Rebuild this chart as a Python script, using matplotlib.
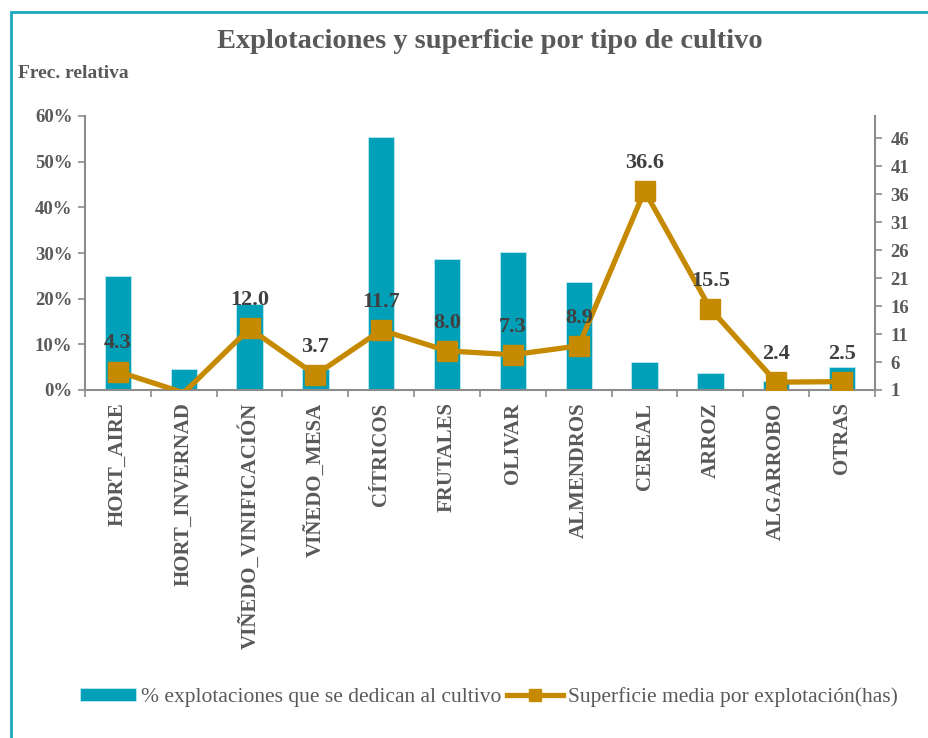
import numpy as np
import matplotlib.pyplot as plt
from matplotlib.patches import Rectangle

categorias = ['HORT_AIRE', 'HORT_INVERNAD', 'VIÑEDO_VINIFICACIÓN', 'VIÑEDO_MESA',
              'CÍTRICOS', 'FRUTALES', 'OLIVAR', 'ALMENDROS', 'CEREAL', 'ARROZ',
              'ALGARROBO', 'OTRAS']
pct_explotaciones = [25.0, 4.5, 18.9, 4.5, 55.3, 28.7, 30.3, 23.7, 6.1, 3.7, 2.0, 5.0]
superficie_media = [4.3, 0.5, 12.0, 3.7, 11.7, 8.0, 7.3, 8.9, 36.6, 15.5, 2.4, 2.5]
etiquetas = ['4.3', None, '12.0', '3.7', '11.7', '8.0', '7.3', '8.9', '36.6', '15.5', '2.4', '2.5']

color_barra = '#00A0B9'
color_linea = '#C68A00'
gris = '#595959'
serif = ['Liberation Serif', 'DejaVu Serif']
plt.rcParams['font.family'] = serif

fig = plt.figure(figsize=(9.29, 7.38), dpi=100)
fig.patches.append(Rectangle((11 / 929, -0.1), 1.2, 1.1 - 12 / 738, transform=fig.transFigure,
                             fill=False, edgecolor='#1AA7BE', linewidth=2))

ax = fig.add_axes([85 / 929, 1 - 390 / 738, 790 / 929, 274 / 738])
x = np.arange(len(categorias))
ax.bar(x, pct_explotaciones, width=0.4, color=color_barra, edgecolor='#BFEAF0', linewidth=0.6, zorder=2,
       label='% explotaciones que se dedican al cultivo')
ax.set_xlim(-0.5, len(categorias) - 0.5)
ax.set_ylim(0, 60)
ax.set_yticks(np.arange(0, 61, 10))
ax.set_yticklabels([f'{v}%' for v in range(0, 61, 10)], fontsize=13.5, fontweight='bold', color=gris)
ax.set_xticks(x)
ax.set_xticklabels(categorias, rotation=90, fontsize=15, fontweight='bold', color=gris)
ax.set_xticks(np.arange(-0.5, len(categorias)), minor=True)
ax.tick_params(axis='x', which='major', length=0, pad=9)
ax.tick_params(axis='x', which='minor', length=5, color='#8c8c8c', width=1.2)
ax.tick_params(axis='y', length=5, color='#8c8c8c', width=1.2, pad=4)
for s in ['top', 'right']:
    ax.spines[s].set_visible(False)
for s in ['left', 'bottom']:
    ax.spines[s].set_color('#8c8c8c')
    ax.spines[s].set_linewidth(1.5)

ax2 = ax.twinx()
visibles = [i for i, v in enumerate(superficie_media) if v >= 1]
ax2.plot(x, superficie_media, color=color_linea, linewidth=3.8, marker='s', markersize=14,
         markevery=visibles, zorder=3, solid_joinstyle='miter',
         label='Superficie media por explotación(has)')
ax2.set_ylim(1, 50)
ax2.set_yticks(np.arange(1, 47, 5))
ax2.set_yticklabels([str(v) for v in range(1, 47, 5)], fontsize=13.5, fontweight='bold', color=gris)
ax2.tick_params(axis='y', length=5, color='#8c8c8c', width=1.2, pad=6)
for s in ['top', 'left', 'bottom']:
    ax2.spines[s].set_visible(False)
ax2.spines['right'].set_color('#8c8c8c')
ax2.spines['right'].set_linewidth(1.5)

for i, (v, t) in enumerate(zip(superficie_media, etiquetas)):
    if t is None:
        continue
    ax2.annotate(t, (i, v), xytext=(0, 13), textcoords='offset points', ha='center', va='bottom',
                 fontsize=16, fontweight='bold', color='#404040', zorder=4)

fig.text(490 / 929, 1 - 42 / 738, 'Explotaciones y superficie por tipo de cultivo', ha='center', va='center',
         fontsize=20.5, fontweight='bold', color=gris)
fig.text(18 / 929, 1 - 73 / 738, 'Frec. relativa', ha='left', va='center', fontsize=14,
         fontweight='bold', color=gris)

h1, l1 = ax.get_legend_handles_labels()
h2, l2 = ax2.get_legend_handles_labels()
fig.legend(h1 + h2, l1 + l2, loc='center', bbox_to_anchor=(489 / 929, 1 - 697 / 738), ncol=2,
           frameon=False, fontsize=15.5, handlelength=2.6, handleheight=0.6, handletextpad=0.2,
           columnspacing=0.3, markerscale=0.6, labelcolor=gris)

fig.savefig('out.png', dpi=100)
